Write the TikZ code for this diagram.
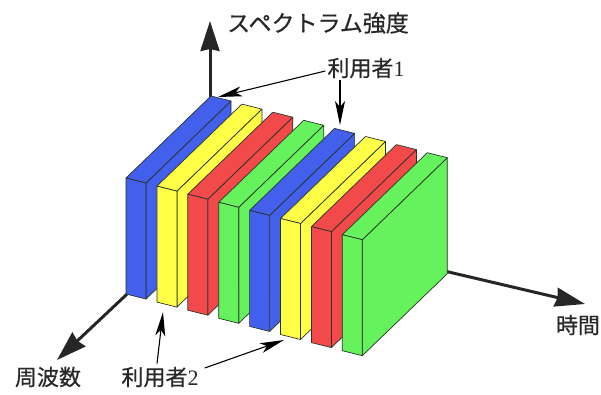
\documentclass[tikz,border=0pt]{standalone}
\usepackage{fontspec}
\newfontfamily\cjk[FakeBold=0.6]{Noto Sans CJK JP}
\newfontfamily\digit{Liberation Serif}
\usetikzlibrary{arrows.meta}
\definecolor{sblue}{RGB}{66,96,236}
\definecolor{syellow}{RGB}{255,255,72}
\definecolor{sred}{RGB}{242,74,74}
\definecolor{sgreen}{RGB}{102,242,92}
\definecolor{txt}{RGB}{40,40,40}
\definecolor{edge}{RGB}{40,50,40}
\tikzset{
  axisline/.style={line width=3pt,draw=black!85,-{Stealth[length=30pt,width=19pt,inset=2pt]}},
  pointer/.style={line width=1.1pt,draw=black,-{Stealth[length=24pt,width=10pt,inset=6pt]}},
  face/.style={draw=edge,line width=0.7pt,line join=round},
  lbl/.style={font=\fontsize{22}{22}\selectfont\cjk,text=txt,inner sep=0pt},
}
\begin{document}
\begin{tikzpicture}[x=1pt,y=-1pt]
\useasboundingbox (0,0) rectangle (601,394);
% axes
\coordinate (O) at (210,216);
\coordinate (zt) at (210,21);
\coordinate (ft) at (57,360);
\coordinate (tt) at (585,304);
\draw[axisline] (O) -- (zt);
\draw[axisline] (O) -- (ft);
\draw[axisline] (O) -- (tt);
% slabs
\foreach \i/\c in {0/sblue,1/syellow,2/sred,3/sgreen,4/sblue,5/syellow,6/sred,7/sgreen}{
  \pgfmathsetmacro\sx{126+30.9*\i}
  \pgfmathsetmacro\sy{178+8.1*\i}
  \filldraw[face,fill=\c] (\sx+20,\sy+5) -- ++(85,-82) -- ++(0,116) -- ++(-85,82) -- cycle;
  \filldraw[face,fill=\c] (\sx,\sy) -- ++(20,5) -- ++(85,-82) -- ++(-20,-5) -- cycle;
  \filldraw[face,fill=\c] (\sx,\sy) -- ++(20,5) -- ++(0,116) -- ++(-20,-5) -- cycle;
}
% labels
\node[lbl,font=\fontsize{23}{23}\selectfont\cjk] (spec) at (318,23) {スペクトラム強度};
\node[lbl] (u1) at (366,68) {利用者{\digit 1}};
\node[lbl] (u2) at (160,377) {利用者{\digit 2}};
\node[lbl] (freq) at (48,377) {周波数};
\node[lbl] (time) at (578,325) {時間};
% pointers
\coordinate (p1) at (218,97);
\coordinate (p2) at (340,125);
\coordinate (p3) at (163,312);
\coordinate (p4) at (284,340);
\draw[pointer] (u1.west) ++(-2,3) -- (p1);
\draw[pointer] (u1.south -| p2) ++(0,2) -- (p2);
\draw[pointer] (u2.north -| 157,0) ++(0,-3) -- (p3);
\draw[pointer] (u2.east) ++(6,-9) -- (p4);
\end{tikzpicture}
\end{document}
